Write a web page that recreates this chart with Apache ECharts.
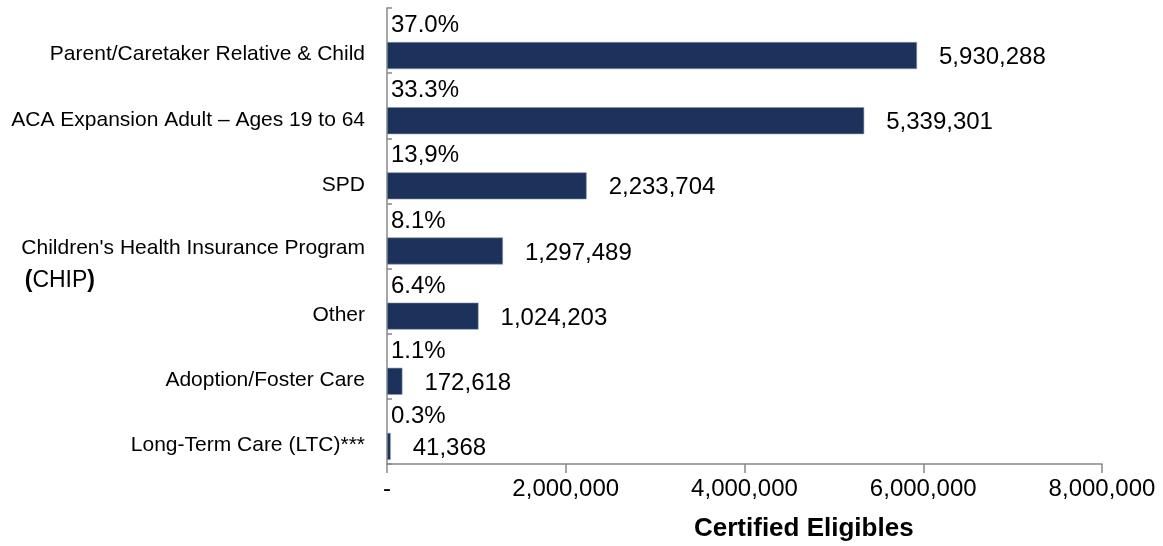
<!DOCTYPE html>
<html>
<head>
<meta charset="utf-8">
<script src="https://cdn.jsdelivr.net/npm/echarts@6/dist/echarts.min.js"></script>
<style>
html,body{margin:0;padding:0;background:#fff;}
#main{width:1163px;height:546px;}
</style>
</head>
<body>
<div id="main"></div>
<script>
// eligibles by program, top to bottom
var categories = [
  'Parent/Caretaker Relative & Child',
  'ACA Expansion Adult \u2013 Ages 19 to 64',
  'SPD',
  "Children's Health Insurance Program (CHIP)",
  'Other',
  'Adoption/Foster Care',
  'Long-Term Care (LTC)***'
];
var eligibles = [5930288, 5339301, 2233704, 1297489, 1024203, 172618, 41368];
var shares = ['37.0%', '33.3%', '13,9%', '8.1%', '6.4%', '1.1%', '0.3%'];
var xTicks = [0, 2000000, 4000000, 6000000, 8000000];

var barColor = '#1c325a';
var font = 'Liberation Sans, Arial, sans-serif';

function fmt(v) {
  return v === 0 ? '-' : v.toString().replace(/\B(?=(\d{3})+(?!\d))/g, ',');
}

var myChart = echarts.init(document.getElementById('main'));
var option = {
  animation: false,
  title: {
    text: 'Certified Eligibles',
    left: 689,
    top: 511,
    textStyle: {fontFamily: font, fontSize: 26, fontWeight: 'bold', color: '#000'}
  },
  grid: {left: 387, right: 61, top: 8, bottom: 82, containLabel: false, outerBoundsMode: 'none'},
  xAxis: {
    type: 'value',
    min: xTicks[0],
    max: xTicks[xTicks.length - 1],
    interval: 2000000,
    axisLine: {show: true, lineStyle: {color: '#888', width: 1.5}},
    axisTick: {show: true, length: 9, lineStyle: {color: '#888', width: 1.5}},
    splitLine: {show: false},
    axisLabel: {
      margin: 13,
      color: '#000',
      fontFamily: font,
      fontSize: 24,
      formatter: fmt
    }
  },
  yAxis: {
    type: 'category',
    inverse: true,
    data: categories,
    axisLine: {lineStyle: {color: '#888', width: 1.5}},
    axisTick: {show: true, inside: true, length: 5, lineStyle: {color: '#888', width: 1.5}},
    axisLabel: {
      margin: 22,
      padding: [28, 0, 0, 0],
      color: '#000',
      fontFamily: font,
      fontSize: 21,
      formatter: function (v) {
        if (v.indexOf('(CHIP)') > -1) {
          return '{c| }\n{a|' + v.replace(' (CHIP)', '') + '}\n{p|(}{b|CHIP}{p|)}{s| }';
        }
        return v;
      },
      rich: {
        a: {fontFamily: font, fontSize: 21, lineHeight: 32, color: '#000'},
        b: {fontFamily: font, fontSize: 23, lineHeight: 32, color: '#000'},
        p: {fontFamily: font, fontSize: 23, lineHeight: 32, fontWeight: 'bold', color: '#000'},
        s: {width: 270, lineHeight: 32},
        c: {lineHeight: 29}
      }
    }
  },
  series: [
    {
      // invisible bar carrying the share labels
      type: 'bar',
      data: eligibles,
      barWidth: 27,
      barGap: '11%',
      itemStyle: {color: 'rgba(0,0,0,0)'},
      label: {
        show: true,
        position: 'insideLeft',
        distance: 4,
        color: '#000',
        fontFamily: font,
        fontSize: 24,
        formatter: function (p) { return shares[p.dataIndex]; }
      }
    },
    {
      type: 'bar',
      data: eligibles,
      barWidth: 27,
      barGap: '11%',
      itemStyle: {color: barColor, borderColor: '#8a96ab', borderWidth: 0.6},
      label: {
        show: true,
        position: 'right',
        distance: 22,
        offset: [0, 2],
        color: '#000',
        fontFamily: font,
        fontSize: 24,
        formatter: function (p) { return fmt(p.value); }
      }
    }
  ]
};
myChart.setOption(option);
</script>
</body>
</html>
